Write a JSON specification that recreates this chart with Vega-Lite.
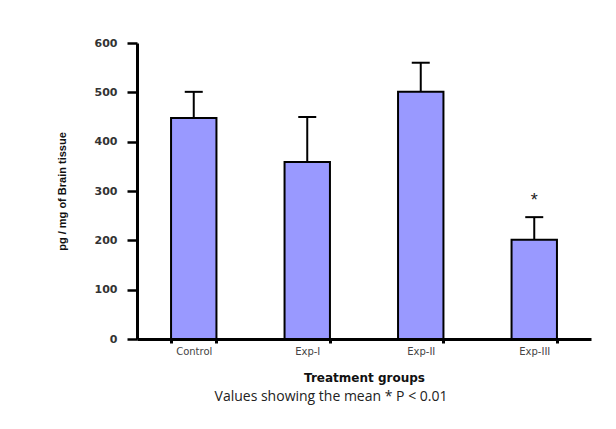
{
  "$schema": "https://vega.github.io/schema/vega-lite/v6.json",
  "autosize": "none",
  "width": 454,
  "height": 296,
  "padding": {"left": 137, "top": 43, "right": 25, "bottom": 90},
  "background": "white",
  "config": {
    "view": {"stroke": null},
    "font": "Liberation Sans"
  },
  "title": {
    "text": "Values showing the mean * P < 0.01",
    "orient": "bottom",
    "anchor": "middle",
    "frame": "group",
    "dx": -33,
    "offset": 7,
    "font": "Open Sans",
    "fontSize": 14,
    "fontWeight": "normal",
    "color": "#222222"
  },
  "data": {
    "values": [
      {"group": "Control", "mean": 448, "upper": 501, "sig": ""},
      {"group": "Exp-I", "mean": 359, "upper": 450, "sig": ""},
      {"group": "Exp-II", "mean": 501, "upper": 560, "sig": ""},
      {"group": "Exp-III", "mean": 201, "upper": 247, "sig": "*"}
    ]
  },
  "encoding": {
    "x": {
      "field": "group",
      "type": "nominal",
      "sort": null,
      "scale": {"paddingInner": 0.6, "paddingOuter": 0.3},
      "axis": {
        "title": "Treatment groups",
        "titleFont": "DejaVu Sans",
        "titleFontSize": 12,
        "titleFontWeight": "bold",
        "titleColor": "#111111",
        "titleY": 38,
        "titleBaseline": "middle",
        "labelAngle": 0,
        "labelFont": "DejaVu Sans",
        "labelFontSize": 10,
        "labelColor": "#444444",
        "labelPadding": 3,
        "domainColor": "black",
        "domainWidth": 3,
        "tickBand": "extent",
        "tickColor": "black",
        "tickSize": 4,
        "tickWidth": 3
      }
    }
  },
  "layer": [
    {
      "mark": {"type": "bar", "fill": "#9999ff", "stroke": "black", "strokeWidth": 2},
      "encoding": {
        "y": {
          "field": "mean",
          "type": "quantitative",
          "scale": {"domain": [0, 600]},
          "axis": {
            "title": "pg / mg of Brain tissue",
            "titleFont": "Liberation Sans",
            "titleFontSize": 11,
            "titleFontWeight": "bold",
            "titleColor": "#111111",
            "titleX": -75,
            "titleBaseline": "middle",
            "values": [0, 100, 200, 300, 400, 500, 600],
            "grid": false,
            "labelFont": "DejaVu Sans",
            "labelFontSize": 11,
            "labelFontWeight": "bold",
            "labelColor": "#333333",
            "labelPadding": 10,
            "domainColor": "black",
            "domainWidth": 3,
            "tickColor": "black",
            "tickSize": 10,
            "tickWidth": 2.5
          }
        }
      }
    },
    {
      "mark": {"type": "rule", "stroke": "black", "strokeWidth": 2},
      "encoding": {
        "y": {"field": "mean", "type": "quantitative"},
        "y2": {"field": "upper"}
      }
    },
    {
      "mark": {"type": "tick", "orient": "horizontal", "color": "black", "size": 18, "thickness": 2, "opacity": 1},
      "encoding": {
        "y": {"field": "upper", "type": "quantitative"}
      }
    },
    {
      "mark": {"type": "text", "fontSize": 18, "baseline": "alphabetic", "dy": -11, "color": "#222222", "font": "Liberation Sans"},
      "encoding": {
        "y": {"field": "upper", "type": "quantitative"},
        "text": {"field": "sig"}
      }
    }
  ]
}
